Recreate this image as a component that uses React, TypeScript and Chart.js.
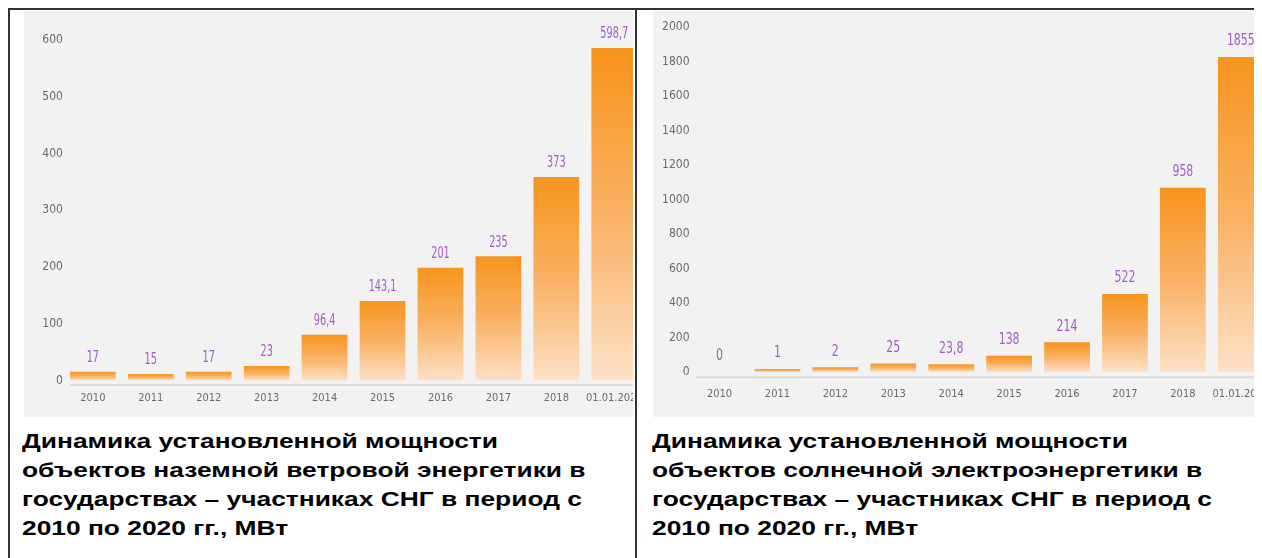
import React, { useEffect, useRef } from "react";
import { Chart, registerables } from "chart.js";

Chart.register(...registerables);

// ---- data ----
const categories = ["2010", "2011", "2012", "2013", "2014", "2015", "2016", "2017", "2018", "01.01.2020"];

// wind (bar heights as drawn in the picture, МВт)
const windValues = [15.5, 11.5, 15.5, 25.5, 80.7, 140, 198.8, 219, 358.6, 586];
const windLabels = ["17", "15", "17", "23", "96,4", "143,1", "201", "235", "373", "598,7"];
const windMax = 600;
const windStep = 100;

// solar (bar heights as drawn in the picture, МВт)
const solarValues = [0, 17, 27, 50, 45, 94, 172, 452, 1068, 1826];
const solarLabels = ["0", "1", "2", "25", "23,8", "138", "214", "522", "958", "1855"];
const solarMax = 2000;
const solarStep = 200;

const windTitle = [
  "Динамика установленной мощности",
  "объектов наземной ветровой энергетики в",
  "государствах – участниках СНГ в период с",
  "2010 по 2020 гг., МВт",
];
const solarTitle = [
  "Динамика установленной мощности",
  "объектов солнечной электроэнергетики в",
  "государствах – участниках СНГ в период с",
  "2010 по 2020 гг., МВт",
];

const COND = "'DejaVu Sans Condensed', 'Liberation Sans Narrow', 'Roboto Condensed', 'DejaVu Sans', sans-serif";
const TICK_COLOR = "#6a6a6a";
const LABEL_COLOR = "#a35cc0";

type Cfg = {
  values: number[];
  labels: string[];
  max: number;
  step: number;
  width: number;
  height: number;
  padTop: number;
  padRight: number;
  yWidth: number;
  xHeight: number;
  xPad: number;
  labelGap: number;
  labelSize: number;
  labelScale: number;
  baseGap: number;
};

function makeChart(canvas: HTMLCanvasElement, c: Cfg) {
  const valueLabels = {
    id: "valueLabels",
    afterDatasetsDraw(chart: any) {
      const ctx = chart.ctx;
      const meta = chart.getDatasetMeta(0);
      ctx.save();
      ctx.fillStyle = LABEL_COLOR;
      ctx.font = `${c.labelSize}px ${COND}`;
      ctx.textAlign = "center";
      ctx.textBaseline = "middle";
      meta.data.forEach((bar: any, i: number) => {
        ctx.save();
        ctx.translate(bar.x, bar.y - c.labelGap);
        ctx.scale(c.labelScale, 1);
        ctx.fillText(c.labels[i], 0, 0);
        ctx.restore();
      });
      ctx.restore();
    },
  };
  const baseline = {
    id: "baseline",
    beforeDatasetsDraw(chart: any) {
      const ctx = chart.ctx;
      const meta = chart.getDatasetMeta(0);
      const first = meta.data[0];
      const y = chart.scales.y.getPixelForValue(0) + c.baseGap;
      ctx.save();
      ctx.strokeStyle = "#dadada";
      ctx.lineWidth = 2;
      ctx.beginPath();
      ctx.moveTo(first.x - first.width / 2, y);
      ctx.lineTo(chart.width, y);
      ctx.stroke();
      ctx.restore();
    },
  };

  return new Chart(canvas, {
    type: "bar",
    data: {
      labels: categories,
      datasets: [
        {
          data: c.values,
          backgroundColor: (ctx: any) => {
            const chart = ctx.chart;
            const ys = chart.scales && chart.scales.y;
            if (!chart.chartArea || !ys) return "#f7941d";
            const v = ctx.raw as number;
            const top = ys.getPixelForValue(v);
            const base = ys.getPixelForValue(0);
            if (base - top < 1) return "#f9b060";
            const g = chart.ctx.createLinearGradient(0, top, 0, base);
            g.addColorStop(0, "#f7941d");
            g.addColorStop(0.5, "#f9b163");
            g.addColorStop(1, "#fde0c6");
            return g;
          },
          borderWidth: 0,
          categoryPercentage: 1,
          barPercentage: 0.79,
        },
      ],
    },
    options: {
      animation: false,
      responsive: false,
      devicePixelRatio: 1,
      layout: { padding: { top: c.padTop, right: c.padRight, left: 0, bottom: 0 } },
      plugins: { legend: { display: false }, tooltip: { enabled: false } },
      scales: {
        x: {
          grid: { display: false, drawTicks: false },
          border: { display: false },
          ticks: {
            color: TICK_COLOR,
            font: { family: COND, size: 11 },
            padding: c.xPad,
            maxRotation: 0,
            autoSkip: false,
          },
          afterFit: (s: any) => {
            s.height = c.xHeight;
          },
        },
        y: {
          min: 0,
          max: c.max,
          grid: { display: false, drawTicks: false },
          border: { display: false },
          ticks: {
            stepSize: c.step,
            color: TICK_COLOR,
            font: { family: COND, size: 12 },
            padding: 1,
            callback: (v: any) => String(v),
          },
          afterFit: (s: any) => {
            s.width = c.yWidth;
          },
        },
      },
    },
    plugins: [baseline, valueLabels],
  } as any);
}

function BarPanel({ cfg }: { cfg: Cfg }) {
  const ref = useRef<HTMLCanvasElement | null>(null);
  useEffect(() => {
    if (!ref.current) return;
    const ch = makeChart(ref.current, cfg);
    return () => ch.destroy();
  }, [cfg]);
  return (
    <canvas
      ref={ref}
      width={cfg.width}
      height={cfg.height}
      style={{ width: cfg.width, height: cfg.height, display: "block" }}
    />
  );
}

const windCfg: Cfg = {
  values: windValues,
  labels: windLabels,
  max: windMax,
  step: windStep,
  width: 630,
  height: 406,
  padTop: 29,
  padRight: 8.1,
  yWidth: 39.9,
  xHeight: 36.5,
  xPad: 11,
  labelGap: 13.5,
  labelSize: 15,
  labelScale: 0.72,
  baseGap: 4.5,
};

const solarCfg: Cfg = {
  values: solarValues,
  labels: solarLabels,
  max: solarMax,
  step: solarStep,
  width: 632,
  height: 406,
  padTop: 16,
  padRight: 9.45,
  yWidth: 37.55,
  xHeight: 45,
  xPad: 15.4,
  labelGap: 15.8,
  labelSize: 16,
  labelScale: 0.76,
  baseGap: 5.2,
};

const titleStyle: React.CSSProperties = {
  position: "absolute",
  top: 418,
  fontFamily: "'Liberation Sans', Arial, sans-serif",
  fontWeight: "bold",
  fontSize: 21,
  lineHeight: "29px",
  color: "#000",
  whiteSpace: "nowrap",
  transform: "scaleX(1.255)",
  transformOrigin: "0 0",
};

export default function App() {
  return (
    <div
      style={{
        position: "relative",
        width: 1254,
        height: 550,
        overflow: "hidden",
        background: "#fff",
      }}
    >
      <div style={{ position: "absolute", left: 0, top: 0, width: 1254, height: 2, background: "#333" }} />
      <div style={{ position: "absolute", left: 0, top: 0, width: 2, height: 550, background: "#333" }} />
      <div style={{ position: "absolute", left: 626.5, top: 0, width: 2, height: 550, background: "#333" }} />

      <div
        style={{
          position: "absolute",
          left: 16,
          top: 3,
          width: 609,
          height: 406,
          overflow: "hidden",
          background: "#f2f2f2",
        }}
      >
        <BarPanel cfg={windCfg} />
      </div>

      <div
        style={{
          position: "absolute",
          left: 644.7,
          top: 3,
          width: 606.3,
          height: 406,
          overflow: "hidden",
          background: "#f2f2f2",
        }}
      >
        <BarPanel cfg={solarCfg} />
      </div>

      <div style={{ ...titleStyle, left: 14 }}>
        {windTitle.map((l, i) => (
          <div key={i}>{l}</div>
        ))}
      </div>
      <div style={{ ...titleStyle, left: 644 }}>
        {solarTitle.map((l, i) => (
          <div key={i}>{l}</div>
        ))}
      </div>
    </div>
  );
}
